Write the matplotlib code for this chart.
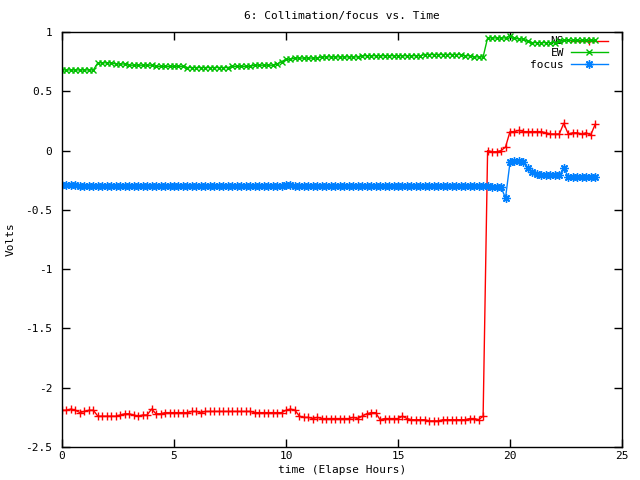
import matplotlib
matplotlib.use("Agg")
import matplotlib.pyplot as plt

# time (hours), 0.2 h steps
hours = [
    0.0, 0.2, 0.4, 0.6, 0.8, 1.0, 1.2, 1.4, 1.6, 1.8,
    2.0, 2.2, 2.4, 2.6, 2.8, 3.0, 3.2, 3.4, 3.6, 3.8,
    4.0, 4.2, 4.4, 4.6, 4.8, 5.0, 5.2, 5.4, 5.6, 5.8,
    6.0, 6.2, 6.4, 6.6, 6.8, 7.0, 7.2, 7.4, 7.6, 7.8,
    8.0, 8.2, 8.4, 8.6, 8.8, 9.0, 9.2, 9.4, 9.6, 9.8,
    10.0, 10.2, 10.4, 10.6, 10.8, 11.0, 11.2, 11.4, 11.6, 11.8,
    12.0, 12.2, 12.4, 12.6, 12.8, 13.0, 13.2, 13.4, 13.6, 13.8,
    14.0, 14.2, 14.4, 14.6, 14.8, 15.0, 15.2, 15.4, 15.6, 15.8,
    16.0, 16.2, 16.4, 16.6, 16.8, 17.0, 17.2, 17.4, 17.6, 17.8,
    18.0, 18.2, 18.4, 18.6, 18.8, 19.0, 19.2, 19.4, 19.6, 19.8,
    20.0, 20.2, 20.4, 20.6, 20.8, 21.0, 21.2, 21.4, 21.6, 21.8,
    22.0, 22.2, 22.4, 22.6, 22.8, 23.0, 23.2, 23.4, 23.6, 23.8,
]

ns = [
    -2.19, -2.19, -2.18, -2.19, -2.21, -2.20, -2.19, -2.19, -2.24, -2.24,
    -2.24, -2.24, -2.24, -2.23, -2.22, -2.22, -2.23, -2.24, -2.23, -2.23,
    -2.18, -2.22, -2.22, -2.21, -2.21, -2.21, -2.21, -2.21, -2.21, -2.20,
    -2.20, -2.21, -2.20, -2.20, -2.20, -2.20, -2.20, -2.20, -2.20, -2.20,
    -2.20, -2.20, -2.20, -2.21, -2.21, -2.21, -2.21, -2.21, -2.21, -2.21,
    -2.19, -2.18, -2.19, -2.24, -2.25, -2.25, -2.26, -2.25, -2.26, -2.26,
    -2.26, -2.26, -2.26, -2.26, -2.26, -2.25, -2.26, -2.24, -2.22, -2.21,
    -2.21, -2.27, -2.26, -2.26, -2.26, -2.26, -2.24, -2.26, -2.27, -2.27,
    -2.27, -2.27, -2.28, -2.28, -2.28, -2.27, -2.27, -2.27, -2.27, -2.27,
    -2.27, -2.26, -2.26, -2.27, -2.24, 0.00, -0.01, -0.01, 0.00, 0.03,
    0.16, 0.16, 0.17, 0.16, 0.16, 0.16, 0.16, 0.16, 0.15, 0.14,
    0.14, 0.14, 0.23, 0.14, 0.15, 0.15, 0.14, 0.15, 0.13, 0.22,
]

ew = [
    0.68, 0.68, 0.68, 0.68, 0.68, 0.68, 0.68, 0.68, 0.74, 0.74,
    0.74, 0.74, 0.73, 0.73, 0.73, 0.72, 0.72, 0.72, 0.72, 0.72,
    0.72, 0.71, 0.71, 0.71, 0.71, 0.71, 0.71, 0.71, 0.70, 0.70,
    0.70, 0.70, 0.70, 0.70, 0.70, 0.70, 0.70, 0.70, 0.71, 0.71,
    0.71, 0.71, 0.71, 0.72, 0.72, 0.72, 0.72, 0.72, 0.73, 0.75,
    0.77, 0.77, 0.78, 0.78, 0.78, 0.78, 0.78, 0.78, 0.79, 0.79,
    0.79, 0.79, 0.79, 0.79, 0.79, 0.79, 0.79, 0.80, 0.80, 0.80,
    0.80, 0.80, 0.80, 0.80, 0.80, 0.80, 0.80, 0.80, 0.80, 0.80,
    0.80, 0.81, 0.81, 0.81, 0.81, 0.81, 0.81, 0.81, 0.81, 0.81,
    0.80, 0.80, 0.79, 0.79, 0.79, 0.95, 0.95, 0.95, 0.95, 0.95,
    0.97, 0.95, 0.94, 0.94, 0.92, 0.91, 0.91, 0.91, 0.91, 0.91,
    0.91, 0.92, 0.93, 0.93, 0.93, 0.93, 0.93, 0.93, 0.93, 0.93,
]

focus = [
    -0.29, -0.29, -0.29, -0.29, -0.30, -0.30, -0.30, -0.30, -0.30, -0.30,
    -0.30, -0.30, -0.30, -0.30, -0.30, -0.30, -0.30, -0.30, -0.30, -0.30,
    -0.30, -0.30, -0.30, -0.30, -0.30, -0.30, -0.30, -0.30, -0.30, -0.30,
    -0.30, -0.30, -0.30, -0.30, -0.30, -0.30, -0.30, -0.30, -0.30, -0.30,
    -0.30, -0.30, -0.30, -0.30, -0.30, -0.30, -0.30, -0.30, -0.30, -0.30,
    -0.29, -0.29, -0.30, -0.30, -0.30, -0.30, -0.30, -0.30, -0.30, -0.30,
    -0.30, -0.30, -0.30, -0.30, -0.30, -0.30, -0.30, -0.30, -0.30, -0.30,
    -0.30, -0.30, -0.30, -0.30, -0.30, -0.30, -0.30, -0.30, -0.30, -0.30,
    -0.30, -0.30, -0.30, -0.30, -0.30, -0.30, -0.30, -0.30, -0.30, -0.30,
    -0.30, -0.30, -0.30, -0.30, -0.30, -0.30, -0.31, -0.31, -0.31, -0.40,
    -0.10, -0.09, -0.09, -0.10, -0.15, -0.18, -0.20, -0.21, -0.21, -0.21,
    -0.21, -0.21, -0.15, -0.22, -0.22, -0.22, -0.22, -0.22, -0.22, -0.22,
]

labels = ["NS", "EW", "focus"]
xticks = [0, 5, 10, 15, 20, 25]
yticks = [-2.5, -2, -1.5, -1, -0.5, 0, 0.5, 1]
ytick_labels = ["-2.5", "-2", "-1.5", "-1", "-0.5", "0", "0.5", "1"]

plt.rcParams["font.family"] = ["DejaVu Sans Mono"]
fig = plt.figure(figsize=(6.4, 4.8), dpi=100)
ax = fig.add_axes([62 / 640, 1 - 447 / 480, 560 / 640, 415 / 480])

ax.plot(hours, ns, color="#ff0000", lw=1, marker="+", ms=6, mew=1, label=labels[0])
ax.plot(hours, ew, color="#00c000", lw=1, marker="x", ms=4, mew=1, label=labels[1])
ax.plot(hours, focus, color="#0080ff", lw=1, marker=(8, 2, 0), ms=6, mew=1, label=labels[2])

ax.set_xlim(0, 25)
ax.set_ylim(-2.5, 1)
ax.set_xticks(xticks)
ax.set_xticklabels([str(v) for v in xticks])
ax.set_yticks(yticks)
ax.set_yticklabels(ytick_labels)
ax.tick_params(direction="in", length=6, width=1, top=True, right=True,
               labelsize=8)
ax.tick_params(axis="x", pad=3)
ax.tick_params(axis="y", pad=7)
for s in ax.spines.values():
    s.set_linewidth(1)

ax.set_title("6: Collimation/focus vs. Time", fontsize=8, pad=9)
ax.set_xlabel("time (Elapse Hours)", fontsize=8, labelpad=3)
ax.set_ylabel("Volts", fontsize=8)
ax.yaxis.set_label_coords(-46 / 560, 0.5)

leg = ax.legend(loc="upper right", frameon=False, markerfirst=False,
                fontsize=8, handlelength=3.3, numpoints=1,
                bbox_to_anchor=(1 - 10 / 560, 1.0),
                borderaxespad=0.0, labelspacing=0.15, handletextpad=0.6)
leg.set_zorder(1)

fig.savefig("out.png", dpi=100)
